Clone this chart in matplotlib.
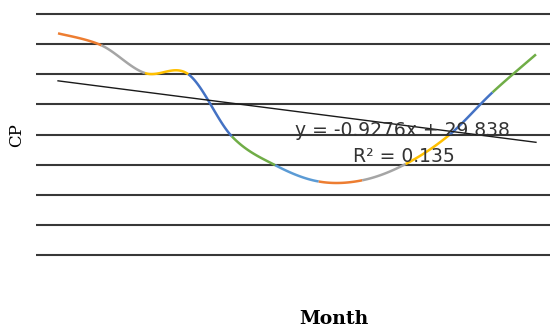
import numpy as np
import matplotlib
matplotlib.use("Agg")
import matplotlib.pyplot as plt

# monthly CP values
months = list(range(1, 13))
cp = [36.8, 34.8, 30.2, 30.0, 19.7, 14.9, 12.2, 12.4, 15.1, 19.9, 27.0, 33.3]

# excel "vary colors by point" palette, one per segment
seg_colors = ['#ED7D31', '#A5A5A5', '#FFC000', '#4472C4', '#70AD47', '#5B9BD5',
              '#ED7D31', '#A5A5A5', '#FFC000', '#4472C4', '#70AD47']

# linear trendline as printed on the chart
slope = -0.9276
intercept = 29.838
r2 = 0.135

grid_vals = list(range(0, 45, 5))


def smooth_segment(p0, p1, p2, p3, n=30):
    # excel-like smoothing: cubic bezier with catmull-rom control points
    c1 = p1 + (p2 - p0) / 6.0
    c2 = p2 - (p3 - p1) / 6.0
    t = np.linspace(0, 1, n)[:, None]
    return ((1 - t) ** 3) * p1 + 3 * ((1 - t) ** 2) * t * c1 + 3 * (1 - t) * t ** 2 * c2 + t ** 3 * p2


fig = plt.figure(figsize=(5.5, 3.27), dpi=100)
ax = fig.add_axes([0.066, 0.2018, 0.948, 0.7737])
ax.set_xlim(0.5, 12.5)
ax.set_ylim(-1, 41)
ax.axis('off')

for g in grid_vals:
    ax.axhline(g, color='#383838', lw=1.5, zorder=1)

pts = np.column_stack([months, cp]).astype(float)
n = len(pts)
for i in range(n - 1):
    p0 = pts[max(i - 1, 0)]
    p3 = pts[min(i + 2, n - 1)]
    seg = smooth_segment(p0, pts[i], pts[i + 1], p3)
    ax.plot(seg[:, 0], seg[:, 1], color=seg_colors[i], lw=1.8,
            solid_capstyle='butt', zorder=3)

xt = np.array([months[0], months[-1]], dtype=float)
ax.plot(xt, slope * xt + intercept, color='#1a1a1a', lw=1.0, zorder=4)

fig.text(0.731, 0.6024, 'y = %.4fx + %.3f' % (slope, intercept),
         ha='center', va='center', fontsize=13.5, color='#333333',
         family='DejaVu Sans')
fig.text(0.7345, 0.520, 'R\u00b2 = %.3f' % r2,
         ha='center', va='center', fontsize=13.5, color='#333333',
         family='DejaVu Sans')

fig.text(0.031, 0.587, 'CP', rotation=90, ha='center', va='center',
         fontsize=12, family='DejaVu Serif')
fig.text(0.607, 0.0245, 'Month', ha='center', va='center',
         fontsize=13.5, fontweight='bold', family='DejaVu Serif')

fig.savefig('out.png', dpi=100)
